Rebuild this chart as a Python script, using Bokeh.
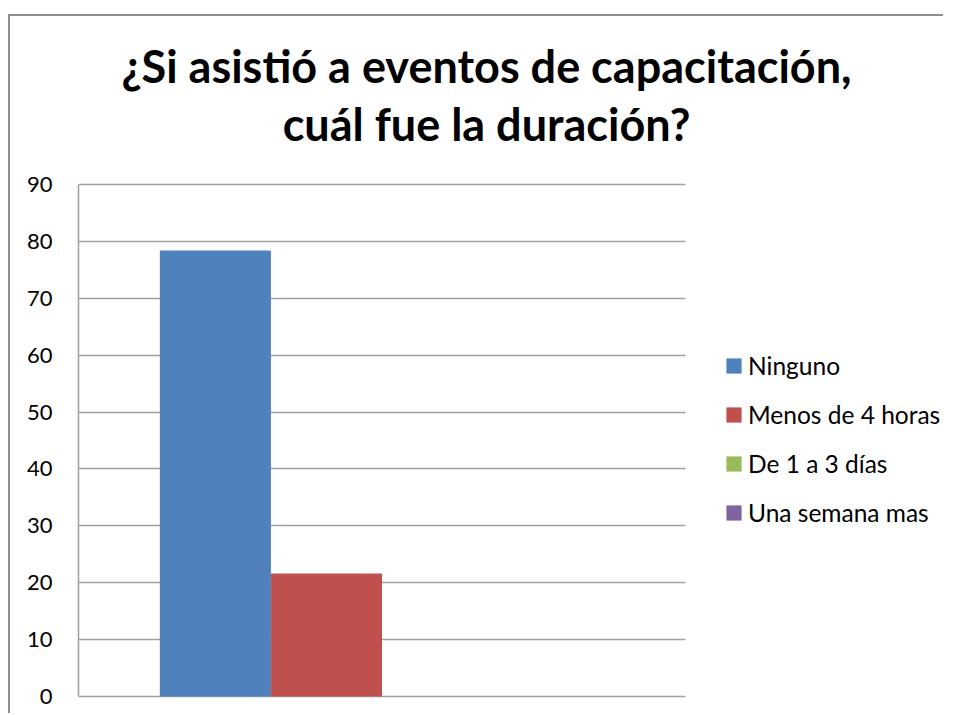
from bokeh.plotting import figure
from bokeh.models import (ColumnDataSource, Range1d, FixedTicker, Legend,
                          LegendItem, Label, Grid)
from bokeh.embed import file_html
from bokeh.resources import INLINE

# ---- data ----
title_lines = ["¿Si asistió a eventos de capacitación,", "cuál fue la duración?"]
category = ["Duración"]
series_names = ["Ninguno", "Menos de 4 horas", "De 1 a 3 días", "Una semana mas"]
series_values = [78.4, 21.6, 0.0, 0.0]
series_colors = ["#4f81bd", "#c0504d", "#9bbb59", "#8064a2"]
y_ticks = [0, 10, 20, 30, 40, 50, 60, 70, 80, 90]

FONT = "Lato"
GRID = "#a0a0a0"

# ---- layout (pixels) ----
W, H = 935, 699
LEFT = 68            # plot area left edge (canvas px)
PA_W = 607           # plot-area width
PA_TOP, PA_BOT = 168, 680
y_min, y_max = y_ticks[0], y_ticks[-1]
k = (PA_BOT - PA_TOP) / (y_max - y_min)          # px per unit
y_start = y_min - (H - PA_BOT) / k
y_end = y_start + H / k
x_lo, x_hi = -0.5, len(category) - 0.5
x_end = x_lo + (W - LEFT) / PA_W * (x_hi - x_lo)

p = figure(x_range=Range1d(x_lo, x_end), y_range=Range1d(y_start, y_end),
           width=W, height=H, title=None,
           output_backend="svg", toolbar_location=None,
           min_border_left=LEFT, min_border_right=0,
           min_border_top=0, min_border_bottom=0)
p.styles = {"border-left": "2px solid #8f8f8f", "border-top": "2px solid #8f8f8f",
            "margin-top": "14px", "margin-left": "8px"}
p.outline_line_color = None
p.background_fill_color = "white"
p.border_fill_color = "white"

offsets = [-0.2745, -0.0915, 0.0915, 0.2745]
bar_w = 0.183
items = []
for name, val, col, off in zip(series_names, series_values, series_colors, offsets):
    src = ColumnDataSource(dict(x=[i + off for i in range(len(category))], top=[val]))
    r = p.vbar(x="x", top="top", bottom=0, width=bar_w, source=src,
               fill_color=col, line_color=None)
    items.append(LegendItem(label=name, renderers=[r]))

p.xaxis.visible = False
p.xgrid.visible = False

ya = p.yaxis[0]
ya.ticker = FixedTicker(ticks=y_ticks)
ya.bounds = (y_min, y_max)
ya.major_tick_out = 0
ya.major_tick_in = 0
ya.minor_tick_out = 0
ya.minor_tick_in = 0
ya.axis_line_color = GRID
ya.axis_line_width = 1.5
ya.major_label_standoff = 26
ya.major_label_text_font = FONT
ya.major_label_text_font_size = "22px"
ya.major_label_text_color = "black"

if "cross_bounds" in Grid.properties():
    p.ygrid.ticker = ya.ticker
    p.ygrid.cross_bounds = (x_lo, x_hi)
    p.ygrid.grid_line_color = GRID
    p.ygrid.grid_line_width = 1.5
else:
    p.ygrid.visible = False
    p.segment(x0=x_lo, x1=x_hi, y0=y_ticks, y1=y_ticks, line_color=GRID,
              line_width=1.5, level="underlay")

# title lines (screen px relative to plot frame, bottom-up)
title_cx = 476 - LEFT
for txt, base in zip(title_lines, [49, 107]):
    p.add_layout(Label(x=title_cx, y=H - base, x_units="screen", y_units="screen",
                       text=txt, text_align="center", text_baseline="alphabetic",
                       text_font=FONT, text_font_style="bold",
                       text_font_size="45px", text_color="black"))

legend = Legend(items=items, location=(714 - LEFT, 188),
                glyph_width=19, glyph_height=19, label_height=19,
                label_standoff=5, spacing=20, padding=0, margin=0,
                border_line_color=None, background_fill_alpha=0,
                label_text_font=FONT, label_text_font_size="24.5px",
                label_text_color="black")
p.add_layout(legend, "center")

open("out.html", "w").write(file_html(p, INLINE))
